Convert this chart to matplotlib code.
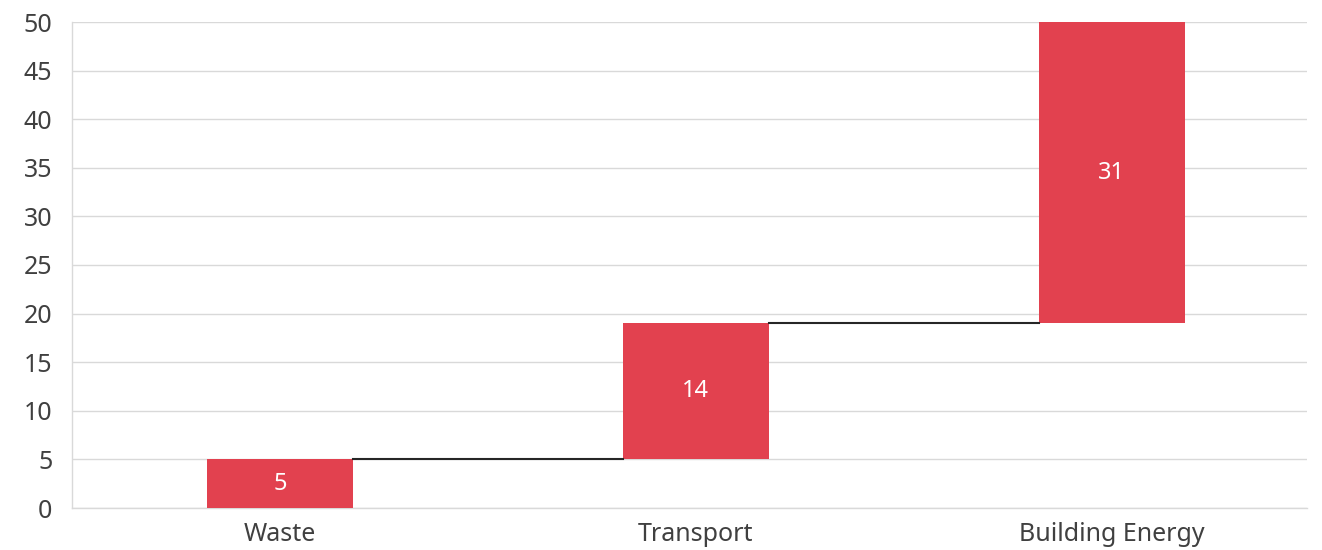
import matplotlib.pyplot as plt
import numpy as np

categories = ["Waste", "Transport", "Building Energy"]
values = [5, 14, 31]

plt.rcParams['font.family'] = ['Noto Sans', 'DejaVu Sans']

bar_color = "#E2414F"
bar_width = 0.351

bottoms = np.concatenate([[0], np.cumsum(values)[:-1]])
tops = bottoms + np.array(values)
x = np.arange(len(categories))

fig = plt.figure(figsize=(13.22, 5.5), dpi=100)
ax = fig.add_axes([72 / 1322, 42 / 550, (1307 - 72) / 1322, (508 - 22) / 550])

ax.bar(x, values, bottom=bottoms, width=bar_width, color=bar_color, zorder=3)

# connectors between bars
for i in range(len(categories) - 1):
    ax.plot([x[i] + bar_width / 2, x[i + 1] - bar_width / 2], [tops[i], tops[i]],
            color="#262626", linewidth=1.5, zorder=3)

for xi, b, v in zip(x, bottoms, values):
    ax.text(xi, b + v / 2, str(v), ha="center", va="center", color="white",
            fontsize=17, fontweight="light", zorder=4)

ax.set_xlim(-0.5, 2.47)
ax.set_ylim(0, 50)
ax.set_yticks(np.arange(0, 51, 5))
ax.set_xticks(x)
ax.set_xticklabels(categories)
ax.grid(axis="y", color="#D9D9D9", linewidth=1, zorder=0)
ax.set_axisbelow(True)

for s in ["top", "right"]:
    ax.spines[s].set_visible(False)
for s in ["left", "bottom"]:
    ax.spines[s].set_color("#D9D9D9")
    ax.spines[s].set_linewidth(1)

ax.tick_params(axis="both", length=0, labelsize=18, colors="#404040")
ax.tick_params(axis="x", pad=10)
ax.tick_params(axis="y", pad=14)
for lbl in ax.get_xticklabels() + ax.get_yticklabels():
    lbl.set_fontweight("light")

plt.savefig("out.png", dpi=100)
